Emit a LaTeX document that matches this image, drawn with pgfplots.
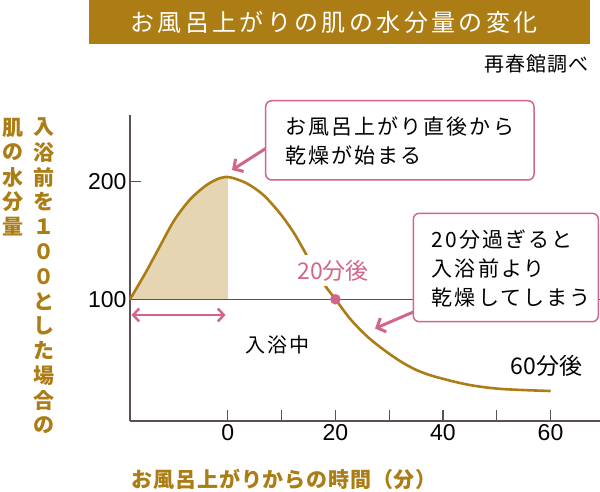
\documentclass[border=0pt]{standalone}
\usepackage{fontspec}
\setmainfont{Noto Sans CJK JP}
\newfontfamily\jpsp[LetterSpace=10]{Noto Sans CJK JP}
\newfontfamily\xlabfont[LetterSpace=4]{Noto Sans CJK JP}
\newfontfamily\titlefont[LetterSpace=14]{Noto Sans CJK JP}
\newfontfamily\srcfont[LetterSpace=6]{Noto Sans CJK JP}
\newfontfamily\numfont{Liberation Sans}
\usepackage{pgfplots}
\pgfplotsset{compat=1.18}
\usepgfplotslibrary{fillbetween}
\usetikzlibrary{arrows.meta}

\definecolor{gold}{HTML}{AC7D14}
\definecolor{tan}{HTML}{E5D5B3}
\definecolor{pinkc}{HTML}{D2668A}
\definecolor{axgray}{HTML}{5B5150}

\begin{document}
\begin{tikzpicture}

% title banner
\fill[gold] (89.3pt,0pt) rectangle (590pt,-44.3pt);
\node[text=white, font=\titlefont\fontsize{24}{24}\selectfont, inner sep=0pt] at (334pt,-22.5pt) {お風呂上がりの肌の水分量の変化};
\node[anchor=east, font=\srcfont\fontsize{20}{20}\selectfont, inner sep=0pt] at (589pt,-64pt) {再春館調べ};

\begin{axis}[
  at={(130pt,-421pt)}, anchor=south west,
  scale only axis, width=470pt, height=306pt,
  xmin=-18.2, xmax=69.2, ymin=-3.5, ymax=256.7,
  axis lines=left,
  axis line style={-, line width=1.5pt, color=axgray},
  clip=false,
  xtick={0,20,40,60},
  minor xtick={10,30,50},
  xticklabels={0,20,40,60},
  ytick={100,200},
  yticklabels={100,200},
  tick align=inside,
  major tick length=11pt,
  minor tick length=11pt,
  every tick/.style={line width=1.2pt, color=axgray},
  every minor tick/.style={line width=1.2pt, color=axgray},
  xticklabel style={font=\numfont\fontsize{23}{23}\selectfont, text=black},
  yticklabel style={font=\numfont\fontsize{23}{23}\selectfont, text=black},
]
\addplot[name path=curve, draw=none, smooth] coordinates {
  (-18.2,100) (-15.5,121) (-13,142) (-10,167) (-7,185) (-4,197) (-1.5,203)
  (0.4,203.7) (3.5,198.6) (6.6,188.7) (9.7,173) (12.2,157) (14.1,142)
  (16,126) (18,112) (20,100) (22.8,83) (26,68) (29,57) (32,47.5) (35,40)
  (38.3,34.5) (44.5,27.5) (50.7,23.8) (60,22)
};
\addplot[name path=base, draw=none] coordinates {(-18.2,100) (69.2,100)};
\addplot[tan] fill between[of=curve and base, soft clip={domain=-18.2:0}];
\addplot[axgray, line width=1.5pt] coordinates {(-18.2,100) (69.2,100)};
\addplot[gold, line width=2.6pt, smooth] coordinates {
  (-18.2,100) (-15.5,121) (-13,142) (-10,167) (-7,185) (-4,197) (-1.5,203)
  (0.4,203.7) (3.5,198.6) (6.6,188.7) (9.7,173) (12.2,157) (14.1,142)
  (16,126) (18,112) (20,100) (22.8,83) (26,68) (29,57) (32,47.5) (35,40)
  (38.3,34.5) (44.5,27.5) (50.7,23.8) (60,22)
};
\end{axis}

% 20分後 label (white background hides the curve)
\node[fill=white, inner xsep=2pt, inner ysep=5pt, text=pinkc, font=\fontsize{23}{23}\selectfont] at (333pt,-270.7pt) {20分後};

\begin{axis}[
  at={(130pt,-421pt)}, anchor=south west,
  scale only axis, width=470pt, height=306pt,
  xmin=-18.2, xmax=69.2, ymin=-3.5, ymax=256.7,
  hide axis, clip=false,
]
\addplot[only marks, mark=*, mark size=5pt, pinkc] coordinates {(20,100)};
\end{axis}

% arrows
\draw[pinkc, line width=3pt, -{Straight Barb[length=7pt,width=15pt]}] (266pt,-148.3pt) -- (232pt,-170pt);
\draw[pinkc, line width=3pt, -{Straight Barb[length=7pt,width=15pt]}] (414pt,-311.7pt) -- (375pt,-328.5pt);
\draw[pinkc, line width=2.5pt, {Straight Barb[length=6pt,width=13pt]}-{Straight Barb[length=6pt,width=13pt]}] (131.5pt,-315pt) -- (225.5pt,-315pt);

% callout boxes
\draw[pinkc, line width=1.5pt, fill=white, rounded corners=6pt] (265.7pt,-100.7pt) rectangle (534pt,-180pt);
\draw[pinkc, line width=1.5pt, fill=white, rounded corners=6pt] (413.3pt,-213.3pt) rectangle (598.3pt,-321.7pt);

\begin{scope}[every node/.style={anchor=west, inner sep=0pt, font=\jpsp\fontsize{21}{21}\selectfont}]
\node at (285pt,-126pt) {お風呂上がり直後から};
\node at (285pt,-155pt) {乾燥が始まる};
\node at (431.7pt,-240pt) {20分過ぎると};
\node at (431.7pt,-268.5pt) {入浴前より};
\node at (431.7pt,-298pt) {乾燥してしまう};
\end{scope}

\node[font=\fontsize{23}{23}\selectfont] at (546.7pt,-365.7pt) {60分後};
\node[font=\jpsp\fontsize{20}{20}\selectfont] at (277pt,-345pt) {入浴中};

% axis titles
\node[anchor=west, inner sep=0pt, text=gold, font=\xlabfont\bfseries\fontsize{21}{21}\selectfont] at (131.7pt,-479pt) {お風呂上がりからの時間（分）};
\foreach \c [count=\i from 0] in {入,浴,前,を,１,０,０,と,し,た,場,合,の}
  \node[inner sep=0pt, text=gold, font=\bfseries\fontsize{21}{21}\selectfont] at (44pt,{-127.5pt-\i*24.8pt}) {\c};
\foreach \c [count=\i from 0] in {肌,の,水,分,量}
  \node[inner sep=0pt, text=gold, font=\bfseries\fontsize{21}{21}\selectfont] at (13pt,{-127.5pt-\i*24.8pt}) {\c};

\pgfresetboundingbox
\useasboundingbox (0,0) rectangle (600pt,-492pt);
\end{tikzpicture}
\end{document}
